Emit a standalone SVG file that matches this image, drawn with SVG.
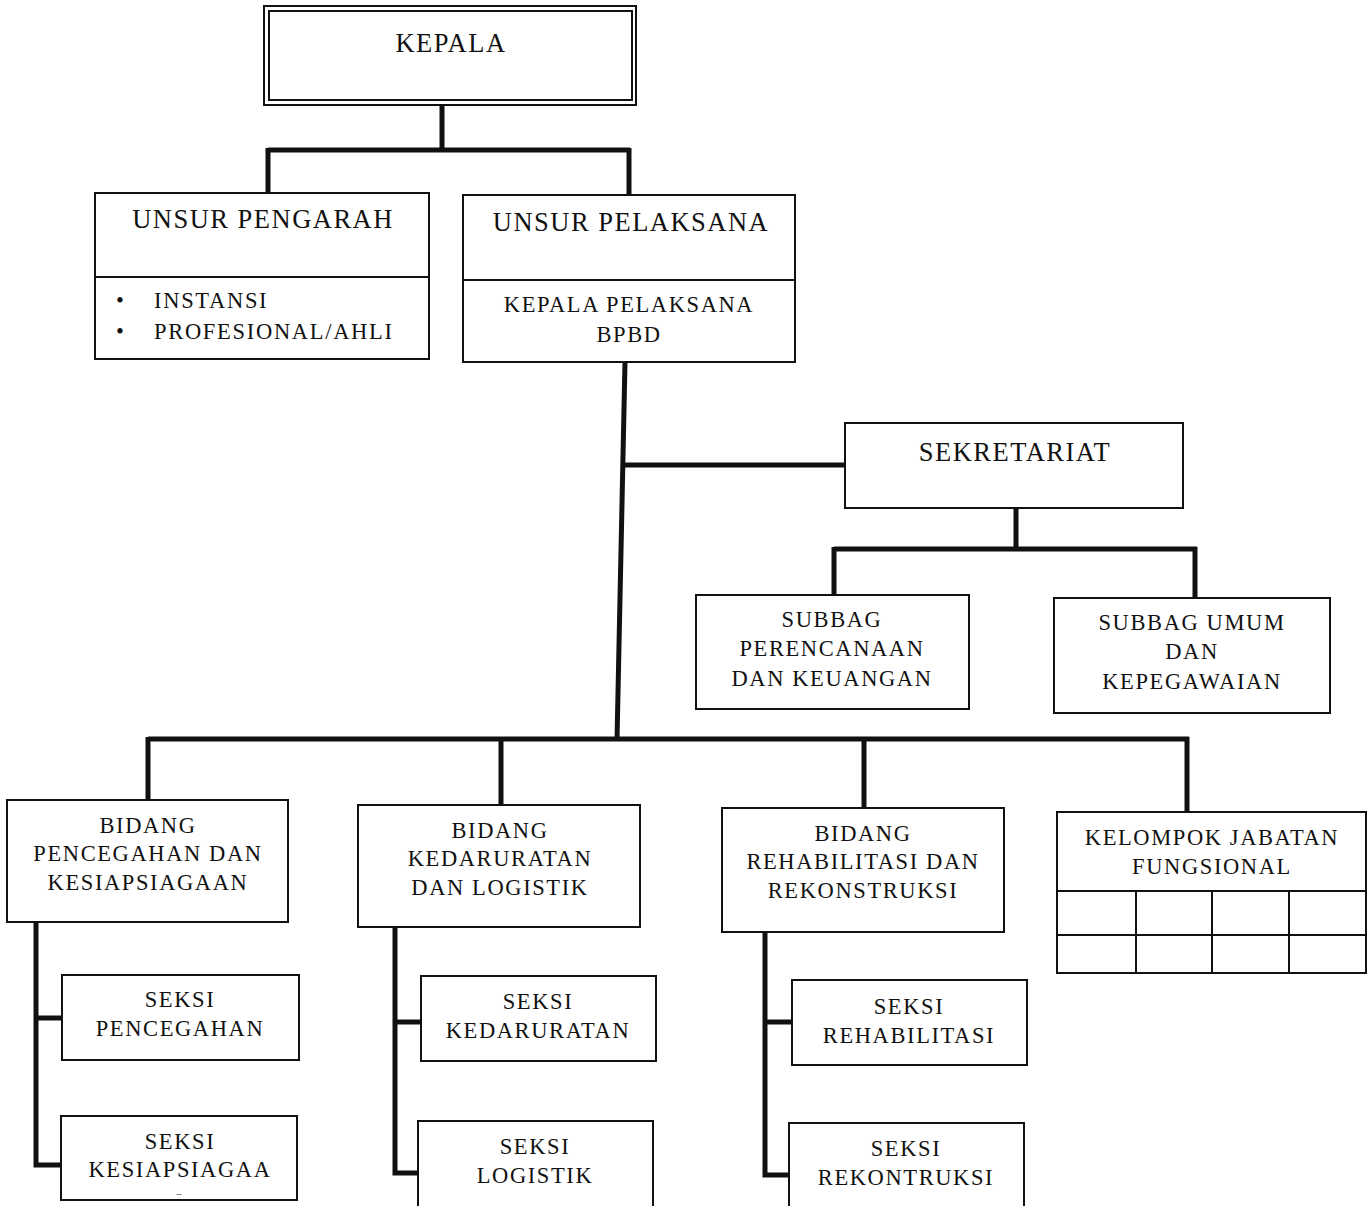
<svg xmlns="http://www.w3.org/2000/svg" width="1372" height="1206" viewBox="0 0 1372 1206">
<style>
.bx{fill:#fff;stroke:#111;stroke-width:2}
.ln{fill:none;stroke:#111;stroke-width:2}
.cn{fill:none;stroke:#111;stroke-width:5;stroke-linejoin:miter}
text{font-family:"Liberation Serif","Times New Roman",serif;fill:#111}
.t{font-size:26.5px;letter-spacing:1.5px;text-anchor:middle}
.b{font-size:22.5px;letter-spacing:1.6px;text-anchor:middle}
.l{font-size:22.5px;letter-spacing:1.7px}
</style>
<rect width="1372" height="1206" fill="#fff"/>
<g id="connectors">
<path class="cn" d="M442,102 V150 M268,150 H630 M268,148 V193 M629,148 V195"/>
<path class="cn" d="M625,362 L617,740 M622,465 H845"/>
<path class="cn" d="M1016,508 V549 M834,549 H1197 M834,547 V595 M1195,547 V598"/>
<path class="cn" d="M148,739 H1189 M148,737 V800 M501,737 V805 M864,737 V808 M1187,737 V812"/>
<path class="cn" d="M36,922 V1165 H62 M36,1018 H62"/>
<path class="cn" d="M395,927 V1173 H418 M395,1022 H421"/>
<path class="cn" d="M765,932 V1175 H789 M765,1022 H792"/>
</g>
<g id="kepala">
<rect class="bx" x="264" y="6" width="372" height="99"/>
<rect class="ln" x="269" y="11" width="363" height="89" stroke-width="3"/>
<text class="t" x="451" y="52" font-size="27">KEPALA</text>
</g>
<g id="unsur-pengarah">
<rect class="bx" x="95" y="193" width="334" height="166"/>
<line class="ln" x1="95" y1="277" x2="429" y2="277"/>
<text class="t" x="263" y="228">UNSUR PENGARAH</text>
<text class="l" x="116" y="308">•</text>
<text class="l" x="154" y="308">INSTANSI</text>
<text class="l" x="116" y="339">•</text>
<text class="l" x="154" y="339">PROFESIONAL/AHLI</text>
</g>
<g id="unsur-pelaksana">
<rect class="bx" x="463" y="195" width="332" height="167"/>
<line class="ln" x1="463" y1="280" x2="795" y2="280"/>
<text class="t" x="631" y="231">UNSUR PELAKSANA</text>
<text class="b" x="629" y="312">KEPALA PELAKSANA</text>
<text class="b" x="629" y="342">BPBD</text>
</g>
<g id="sekretariat">
<rect class="bx" x="845" y="423" width="338" height="85"/>
<text class="t" x="1015" y="461" font-size="28">SEKRETARIAT</text>
</g>
<g id="subbag-perencanaan">
<rect class="bx" x="696" y="595" width="273" height="114"/>
<text class="b" x="832" y="627">SUBBAG</text>
<text class="b" x="832" y="656">PERENCANAAN</text>
<text class="b" x="832" y="686">DAN KEUANGAN</text>
</g>
<g id="subbag-umum">
<rect class="bx" x="1054" y="598" width="276" height="115"/>
<text class="b" x="1192" y="630">SUBBAG UMUM</text>
<text class="b" x="1192" y="659">DAN</text>
<text class="b" x="1192" y="689">KEPEGAWAIAN</text>
</g>
<g id="bidang-pencegahan">
<rect class="bx" x="7" y="800" width="281" height="122"/>
<text class="b" x="148" y="833">BIDANG</text>
<text class="b" x="148" y="861">PENCEGAHAN DAN</text>
<text class="b" x="148" y="890">KESIAPSIAGAAN</text>
</g>
<g id="seksi-pencegahan">
<rect class="bx" x="62" y="975" width="237" height="85"/>
<text class="b" x="180" y="1007">SEKSI</text>
<text class="b" x="180" y="1036">PENCEGAHAN</text>
</g>
<g id="seksi-kesiapsiagaan">
<rect class="bx" x="61" y="1116" width="236" height="84"/>
<text class="b" x="180" y="1149">SEKSI</text>
<text class="b" x="180" y="1177">KESIAPSIAGAA</text>
<text x="179" y="1197" font-size="8" text-anchor="middle">--</text>
</g>
<g id="bidang-kedaruratan">
<rect class="bx" x="358" y="805" width="282" height="122"/>
<text class="b" x="500" y="838">BIDANG</text>
<text class="b" x="500" y="866">KEDARURATAN</text>
<text class="b" x="500" y="895">DAN LOGISTIK</text>
</g>
<g id="seksi-kedaruratan">
<rect class="bx" x="421" y="976" width="235" height="85"/>
<text class="b" x="538" y="1009">SEKSI</text>
<text class="b" x="538" y="1038">KEDARURATAN</text>
</g>
<g id="seksi-logistik">
<rect class="bx" x="418" y="1121" width="235" height="90"/>
<text class="b" x="535" y="1154">SEKSI</text>
<text class="b" x="535" y="1183">LOGISTIK</text>
</g>
<g id="bidang-rehabilitasi">
<rect class="bx" x="722" y="808" width="282" height="124"/>
<text class="b" x="863" y="841">BIDANG</text>
<text class="b" x="863" y="869">REHABILITASI DAN</text>
<text class="b" x="863" y="898">REKONSTRUKSI</text>
</g>
<g id="seksi-rehabilitasi">
<rect class="bx" x="792" y="980" width="235" height="85"/>
<text class="b" x="909" y="1014">SEKSI</text>
<text class="b" x="909" y="1043">REHABILITASI</text>
</g>
<g id="seksi-rekontruksi">
<rect class="bx" x="789" y="1123" width="235" height="90"/>
<text class="b" x="906" y="1156">SEKSI</text>
<text class="b" x="906" y="1185">REKONTRUKSI</text>
</g>
<g id="kelompok-jabatan">
<rect class="bx" x="1057" y="812" width="309" height="161"/>
<path class="ln" d="M1057,891 H1366 M1057,935 H1366 M1136,891 V973 M1212,891 V973 M1289,891 V973"/>
<text class="b" x="1212" y="845">KELOMPOK JABATAN</text>
<text class="b" x="1212" y="874">FUNGSIONAL</text>
</g>
</svg>
